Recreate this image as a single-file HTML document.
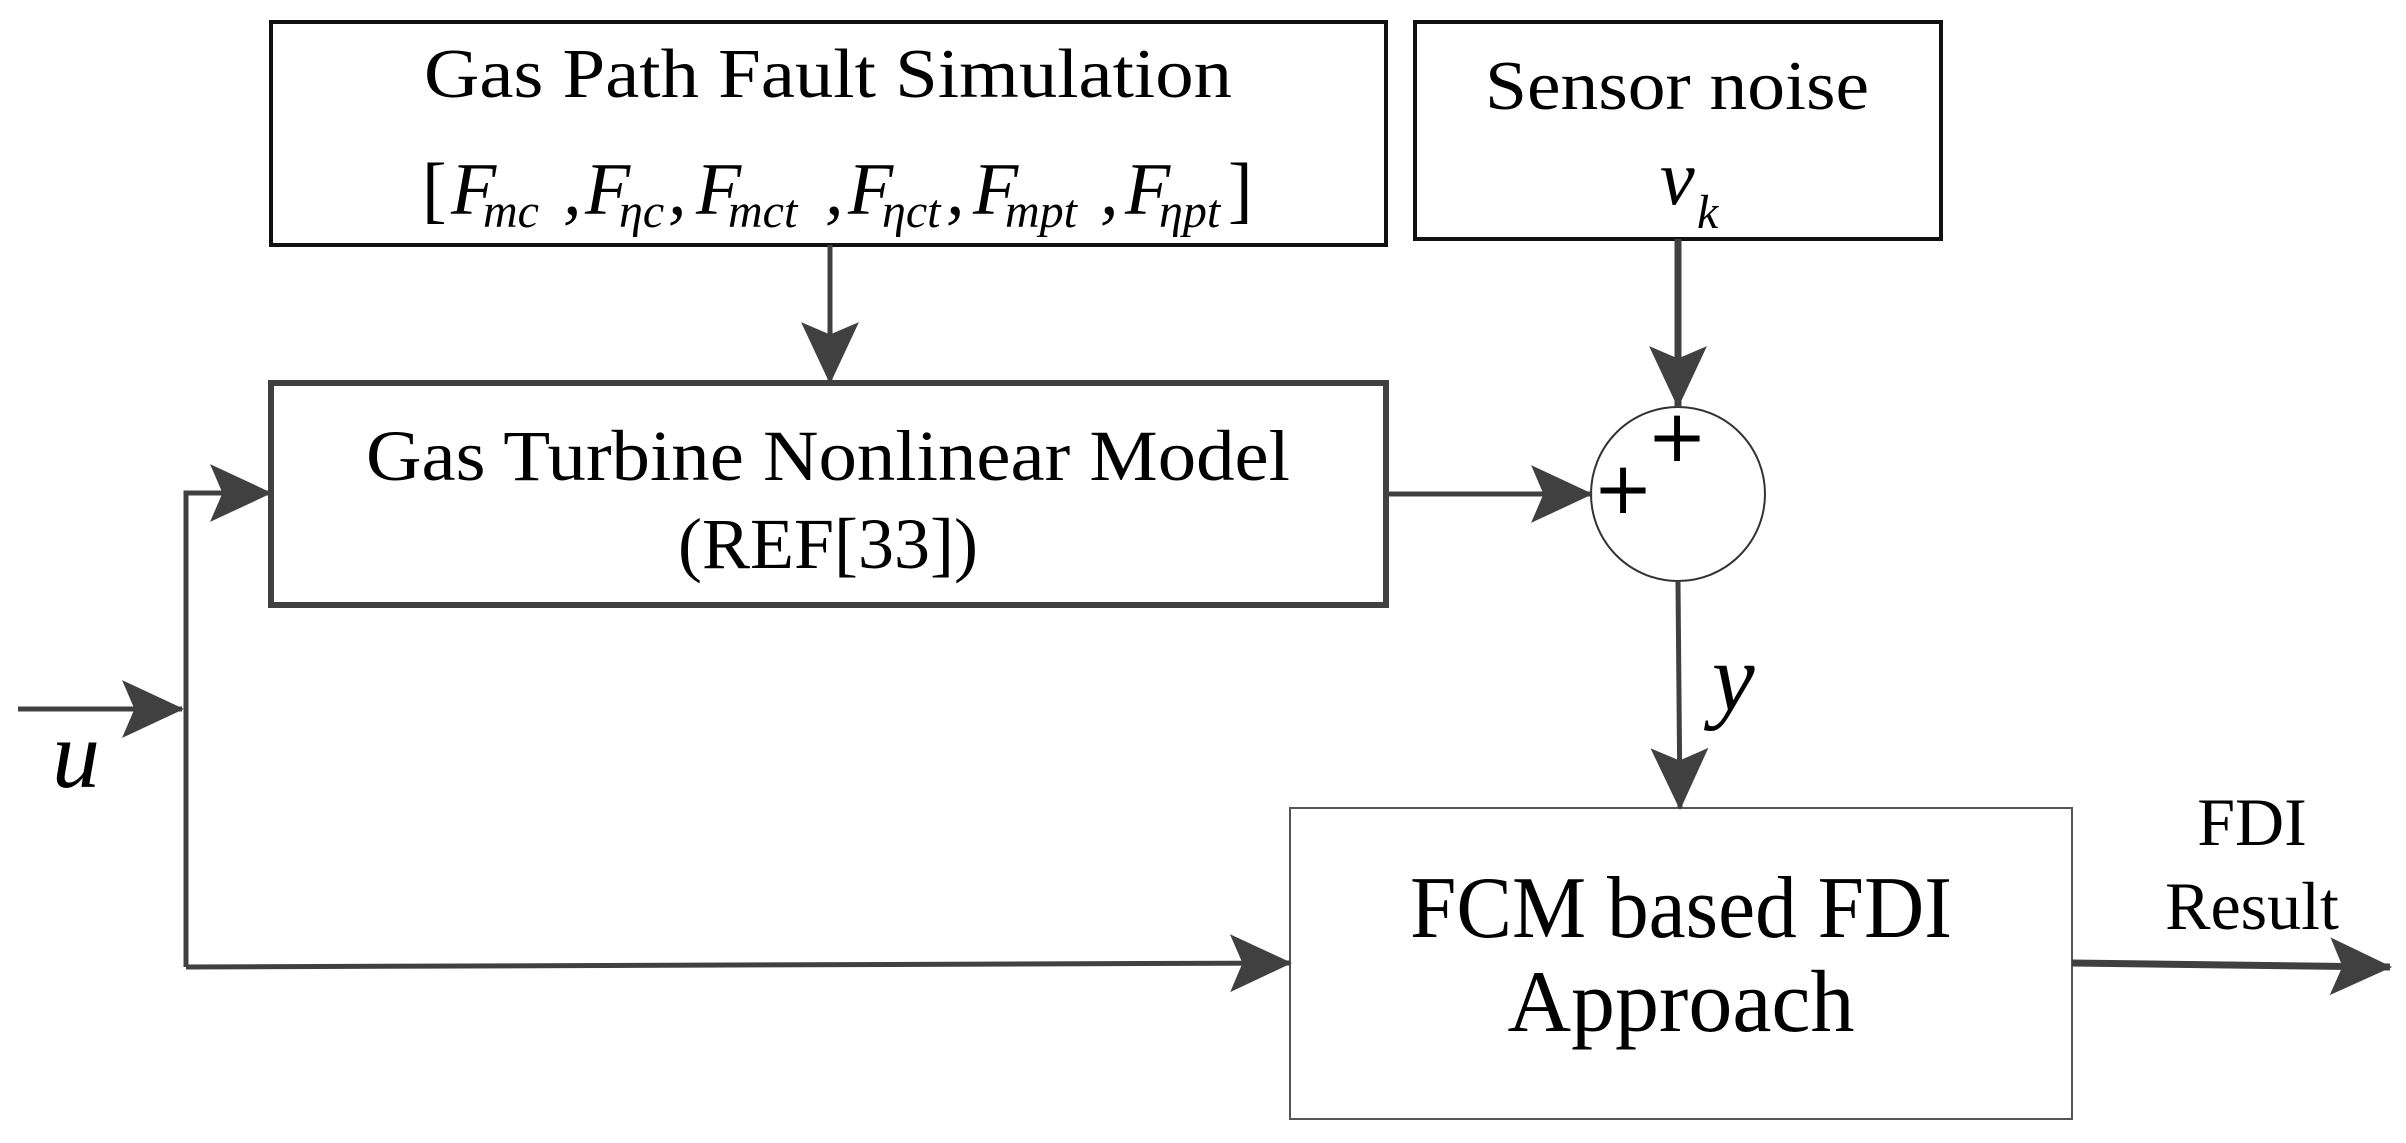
<!DOCTYPE html>
<html><head><meta charset="utf-8"><style>html,body{margin:0;padding:0;background:#fff}svg{display:block}</style></head>
<body>
<svg width="2406" height="1143" viewBox="0 0 2406 1143" xmlns="http://www.w3.org/2000/svg" font-family="'Liberation Serif', serif" fill="#000">
<defs>
<marker id="ah" viewBox="0 0 60 60" refX="58" refY="30" markerWidth="62" markerHeight="62" markerUnits="userSpaceOnUse" orient="auto">
<path d="M0,2 L60,30 L0,58 L12,30 Z" fill="#404040"/>
</marker>
</defs>
<rect x="271" y="22" width="1115" height="223" fill="none" stroke="#111" stroke-width="4"/>
<rect x="1415" y="22" width="526" height="217" fill="none" stroke="#111" stroke-width="4"/>
<rect x="271" y="383" width="1115" height="222" fill="none" stroke="#404040" stroke-width="6"/>
<rect x="1290" y="808" width="782" height="311" fill="none" stroke="#555" stroke-width="2"/>
<circle cx="1678" cy="494" r="87" fill="none" stroke="#333" stroke-width="2"/>
<g stroke="#404040" stroke-width="5" fill="none">
<line x1="830" y1="245" x2="830" y2="382" marker-end="url(#ah)"/>
<line x1="1678" y1="239" x2="1678" y2="406" stroke-width="7" marker-end="url(#ah)"/>
<line x1="1386" y1="494" x2="1591" y2="494" marker-end="url(#ah)"/>
<line x1="1678" y1="582" x2="1680" y2="808" marker-end="url(#ah)"/>
<line x1="2072" y1="963" x2="2390" y2="967" stroke-width="7" marker-end="url(#ah)"/>
<line x1="18" y1="709" x2="182" y2="709" marker-end="url(#ah)"/>
<polyline points="186,967 186,493 270,493" marker-end="url(#ah)"/>
<line x1="186" y1="967" x2="1290" y2="963" marker-end="url(#ah)"/>
</g>
<text x="828" y="97" font-size="70" text-anchor="middle" textLength="808" lengthAdjust="spacingAndGlyphs">Gas Path Fault Simulation</text>
<g font-size="74" font-style="italic">
<text x="422" y="214" font-style="normal">[</text>
<text x="451" y="214">F</text><text x="483" y="227" font-size="48">mc</text>
<text x="563" y="214">,</text>
<text x="585" y="214">F</text><text x="619" y="227" font-size="48">ηc</text>
<text x="668" y="214">,</text>
<text x="696" y="214">F</text><text x="728" y="227" font-size="48">mct</text>
<text x="825" y="214">,</text>
<text x="848" y="214">F</text><text x="882" y="227" font-size="48">ηct</text>
<text x="946" y="214">,</text>
<text x="973" y="214">F</text><text x="1005" y="227" font-size="48">mpt</text>
<text x="1100" y="214">,</text>
<text x="1125" y="214">F</text><text x="1159" y="227" font-size="48">ηpt</text>
<text x="1228" y="214" font-style="normal">]</text>
</g>
<text x="1677" y="109" font-size="70" text-anchor="middle" textLength="384" lengthAdjust="spacingAndGlyphs">Sensor noise</text>
<text x="1660" y="204" font-size="78" font-style="italic">v</text>
<text x="1697" y="228" font-size="48" font-style="italic">k</text>
<text x="828" y="480" font-size="72" text-anchor="middle" textLength="924" lengthAdjust="spacingAndGlyphs">Gas Turbine Nonlinear Model</text>
<text x="828" y="568" font-size="72" text-anchor="middle">(REF[33])</text>
<text x="1677" y="461" font-size="72" text-anchor="middle" font-family="'DejaVu Sans', sans-serif">+</text>
<text x="1623" y="513" font-size="72" text-anchor="middle" font-family="'DejaVu Sans', sans-serif">+</text>
<text x="1681" y="937" font-size="88" text-anchor="middle" textLength="542" lengthAdjust="spacingAndGlyphs">FCM based FDI</text>
<text x="1681" y="1031" font-size="88" text-anchor="middle">Approach</text>
<text x="2252" y="845" font-size="68" text-anchor="middle">FDI</text>
<text x="2252" y="929" font-size="68" text-anchor="middle">Result</text>
<text x="1712" y="710" font-size="96" font-style="italic">y</text>
<text x="52" y="787" font-size="96" font-style="italic">u</text>
</svg>
</body></html>
